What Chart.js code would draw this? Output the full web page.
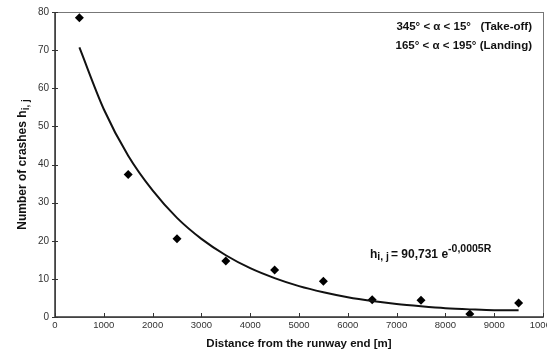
<!DOCTYPE html>
<html lang="en">
<head>
    <meta charset="UTF-8">
    <title>Crashes vs distance from runway end</title>
    <script src="https://cdn.jsdelivr.net/npm/chart.js@4.4.1/dist/chart.umd.min.js"></script>
    <style>
        html, body {
            margin: 0;
            padding: 0;
            background: #fff;
            overflow: hidden;
        }
        .chart-box {
            position: relative;
            width: 560px;
            height: 360px;
        }
    </style>
</head>
<body>
    <div class="chart-box">
        <canvas id="chart"></canvas>
    </div>

    <script>
        // observed crashes per distance band
        const pointDistance = [500, 1500, 2500, 3500, 4500, 5500, 6500, 7500, 8500, 9500];
        const pointCrashes = [78.5, 37.4, 20.5, 14.7, 12.3, 9.4, 4.5, 4.4, 0.8, 3.7];

        // fitted curve
        const curveDistance = [500, 1000, 1500, 2000, 2500, 3000, 3500, 4000, 4500, 5000, 5500, 6000, 6500, 7000, 7500, 8000, 8500, 9000, 9500];
        const curveCrashes = [70.7, 54.5, 42.3, 33.2, 26.0, 20.5, 16.2, 12.8, 10.2, 8.1, 6.5, 5.2, 4.2, 3.4, 2.8, 2.3, 2.0, 1.8, 1.8];

        const xTicks = [0, 1000, 2000, 3000, 4000, 5000, 6000, 7000, 8000, 9000, 10000];
        const yTicks = [0, 10, 20, 30, 40, 50, 60, 70, 80];

        const FONT = "'Liberation Sans', Arial, sans-serif";

        // frame, inner ticks and the text labels
        const decorations = {
            id: 'decorations',
            afterDraw(chart) {
                const ctx = chart.ctx;
                const a = chart.chartArea;
                const xs = chart.scales.x;
                const ys = chart.scales.y;
                ctx.save();

                // box around the plot
                ctx.strokeStyle = '#777';
                ctx.lineWidth = 1;
                ctx.strokeRect(a.left + 0.5, a.top + 0.5, a.right - a.left, a.bottom - a.top);
                ctx.strokeStyle = '#333';
                ctx.lineWidth = 1.5;
                ctx.beginPath();
                ctx.moveTo(a.left, a.top);
                ctx.lineTo(a.left, a.bottom);
                ctx.lineTo(a.right, a.bottom);
                ctx.stroke();

                // tick marks
                ctx.lineWidth = 1;
                xTicks.forEach(v => {
                    const px = Math.round(xs.getPixelForValue(v)) + 0.5;
                    ctx.beginPath();
                    ctx.moveTo(px, a.bottom);
                    ctx.lineTo(px, a.bottom - 4);
                    ctx.stroke();
                });
                yTicks.forEach(v => {
                    const py = Math.round(ys.getPixelForValue(v)) + 0.5;
                    ctx.beginPath();
                    ctx.moveTo(a.left - 3, py);
                    ctx.lineTo(a.left + 3, py);
                    ctx.stroke();
                });

                ctx.fillStyle = '#111';

                // y axis title with subscript
                ctx.save();
                ctx.translate(22, (a.top + a.bottom) / 2);
                ctx.rotate(-Math.PI / 2);
                ctx.textBaseline = 'alphabetic';
                const main = 'Number of crashes h';
                ctx.font = 'bold 10px ' + FONT;
                const sub = 'i, j';
                const subW = ctx.measureText(sub).width;
                ctx.font = 'bold 12px ' + FONT;
                const mainW = ctx.measureText(main).width;
                let x0 = -(mainW + subW) / 2;
                ctx.textAlign = 'left';
                ctx.fillText(main, x0, 4);
                ctx.font = 'bold 10px ' + FONT;
                ctx.fillText(sub, x0 + mainW, 7);
                ctx.restore();

                // angle ranges, top right
                ctx.font = 'bold 11.5px ' + FONT;
                ctx.textAlign = 'right';
                ctx.textBaseline = 'middle';
                ctx.fillText('345\u00b0 < \u03b1 < 15\u00b0   (Take-off)', a.right - 11, a.top + 15);
                ctx.fillText('165\u00b0 < \u03b1 < 195\u00b0 (Landing)', a.right - 11, a.top + 34);

                // fitted equation
                ctx.textAlign = 'left';
                ctx.textBaseline = 'alphabetic';
                let ex = 370, ey = 258;
                ctx.font = 'bold 12px ' + FONT;
                ctx.fillText('h', ex, ey);
                ex += ctx.measureText('h').width;
                ctx.font = 'bold 10.5px ' + FONT;
                ctx.fillText('i, j', ex, ey + 2);
                ex += ctx.measureText('i, j').width + 2;
                ctx.font = 'bold 12px ' + FONT;
                ctx.fillText('= 90,731 e', ex, ey);
                ex += ctx.measureText('= 90,731 e').width;
                ctx.font = 'bold 10.5px ' + FONT;
                ctx.fillText('-0,0005R', ex, ey - 6);

                ctx.restore();
            }
        };

        const ctx = document.getElementById('chart').getContext('2d');
        new Chart(ctx, {
            type: 'scatter',
            data: {
                datasets: [
                    {
                        label: 'Fitted curve',
                        type: 'line',
                        data: curveDistance.map((d, i) => ({ x: d, y: curveCrashes[i] })),
                        borderColor: '#111',
                        borderWidth: 2,
                        pointRadius: 0,
                        cubicInterpolationMode: 'monotone',
                        fill: false
                    },
                    {
                        label: 'Crashes',
                        data: pointDistance.map((d, i) => ({ x: d, y: pointCrashes[i] })),
                        backgroundColor: '#000',
                        borderColor: '#000',
                        pointStyle: 'rectRot',
                        pointRadius: 4.5,
                        borderWidth: 0
                    }
                ]
            },
            options: {
                responsive: true,
                maintainAspectRatio: false,
                animation: false,
                layout: {
                    padding: { top: 12, right: 17, left: 0, bottom: 0 }
                },
                plugins: {
                    legend: { display: false },
                    tooltip: { enabled: false }
                },
                scales: {
                    x: {
                        type: 'linear',
                        min: 0,
                        max: 10000,
                        afterBuildTicks: s => { s.ticks = xTicks.map(v => ({ value: v })); },
                        afterFit: s => { s.height = 43; },
                        grid: { display: false, drawTicks: false },
                        border: { display: false },
                        ticks: {
                            color: '#333',
                            font: { family: FONT, size: 9.5 },
                            padding: 3,
                            maxRotation: 0,
                            callback: v => String(v)
                        },
                        title: {
                            display: true,
                            text: 'Distance from the runway end [m]',
                            color: '#111',
                            font: { family: FONT, size: 11.5, weight: 'bold' },
                            padding: { top: 0, bottom: 9 }
                        }
                    },
                    y: {
                        min: 0,
                        max: 80,
                        afterBuildTicks: s => { s.ticks = yTicks.map(v => ({ value: v })); },
                        afterFit: s => { s.width = 55; },
                        grid: { display: false, drawTicks: false },
                        border: { display: false },
                        ticks: {
                            color: '#333',
                            font: { family: FONT, size: 10 },
                            padding: 6
                        }
                    }
                }
            },
            plugins: [decorations]
        });
    </script>
</body>
</html>
